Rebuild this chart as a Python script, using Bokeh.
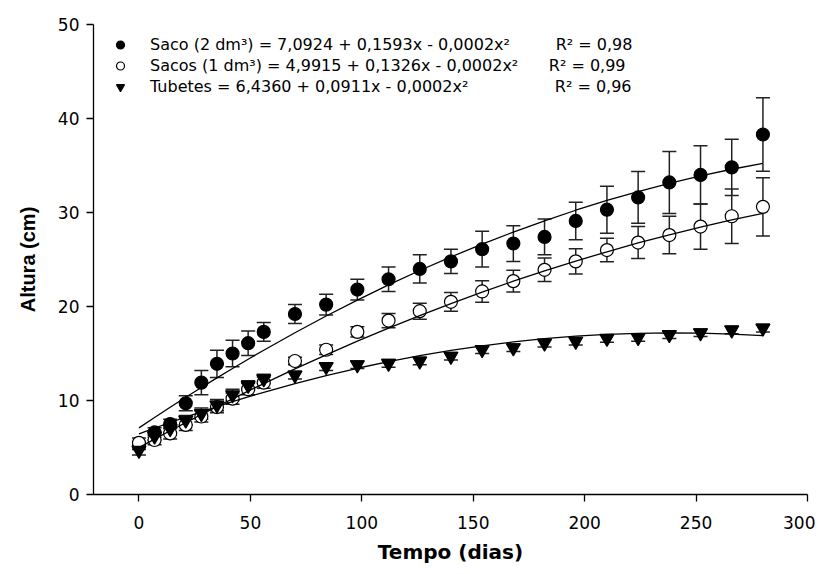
from bokeh.plotting import figure
from bokeh.models import (ColumnDataSource, Whisker, TeeHead, Legend, LegendItem,
                          FixedTicker)
from bokeh.embed import file_html
from bokeh.resources import INLINE

days = [0, 7, 14, 21, 28, 35, 42, 49, 56, 70, 84, 98, 112, 126, 140, 154, 168,
        182, 196, 210, 224, 238, 252, 266, 280]

saco2 = [5.2, 6.6, 7.5, 9.7, 11.9, 13.9, 15.0, 16.1, 17.3, 19.2, 20.2, 21.8, 22.9,
         24.0, 24.8, 26.1, 26.7, 27.4, 29.1, 30.3, 31.6, 33.2, 34.0, 34.8, 38.3]
saco2_err = [0.4, 0.5, 0.5, 0.8, 1.3, 1.45, 1.4, 1.3, 1.0, 1.0, 1.1, 1.1, 1.3, 1.5,
             1.3, 1.9, 1.9, 1.9, 2.0, 2.5, 2.75, 3.3, 3.1, 3.0, 3.9]

sacos1 = [5.5, 5.8, 6.5, 7.4, 8.3, 9.3, 10.2, 11.2, 11.9, 14.2, 15.4, 17.3, 18.5,
          19.5, 20.5, 21.6, 22.7, 23.9, 24.8, 26.0, 26.8, 27.6, 28.5, 29.6, 30.6]
sacos1_err = [0.5, 0.5, 0.6, 0.6, 0.6, 0.6, 0.6, 0.6, 0.6, 0.4, 0.5, 0.55, 0.75,
              0.85, 1.0, 1.15, 1.15, 1.25, 1.35, 1.25, 1.7, 2.0, 2.4, 2.9, 3.1]

tubetes = [4.7, 6.2, 7.0, 7.9, 8.6, 9.5, 10.6, 11.6, 12.3, 12.7, 13.6, 13.8, 13.95,
           14.2, 14.7, 15.4, 15.6, 16.1, 16.3, 16.6, 16.7, 17.0, 17.2, 17.5, 17.7]
tubetes_err = [0.5, 0.4, 0.4, 0.5, 0.6, 0.6, 0.6, 0.5, 0.5, 0.4, 0.4, 0.4, 0.4, 0.4,
               0.4, 0.4, 0.4, 0.4, 0.4, 0.4, 0.4, 0.4, 0.4, 0.4, 0.4]

# fitted curves at each sampling day
saco2_fit = [7.09, 8.19, 9.28, 10.34, 11.39, 12.41, 13.41, 14.39, 15.35, 17.21, 18.99,
             20.68, 22.30, 23.83, 25.27, 26.64, 27.92, 29.12, 30.24, 31.28, 32.23,
             33.10, 33.89, 34.60, 35.23]
sacos1_fit = [4.99, 5.89, 6.78, 7.65, 8.51, 9.35, 10.18, 11.00, 11.80, 13.37, 14.86,
              16.31, 17.70, 19.03, 20.30, 21.52, 22.69, 23.78, 24.83, 25.82, 26.76,
              27.63, 28.45, 29.21, 29.90]
tubetes_fit = [6.44, 7.06, 7.66, 8.24, 8.80, 9.35, 9.88, 10.39, 10.87, 11.80, 12.65,
               13.43, 14.14, 14.77, 15.33, 15.82, 16.23, 16.58, 16.84, 17.03, 17.15,
               17.20, 17.16, 17.07, 16.90]

NB = "\u00a0"
labels = [
    "Saco (2 dm³) = 7,0924 + 0,1593x - 0,0002x²" + NB * 9 + "R² = 0,98",
    "Sacos (1 dm³) = 4,9915 + 0,1326x - 0,0002x²" + NB * 6 + "R² = 0,99",
    "Tubetes = 6,4360 + 0,0911x - 0,0002x²" + NB * 17 + "R² = 0,96",
]
x_ticks = [0, 50, 100, 150, 200, 250, 300]
y_ticks = [0, 10, 20, 30, 40, 50]

FONT = "DejaVu Sans"

p = figure(width=815, height=566, x_range=(-20.4, 300), y_range=(0, 50),
           output_backend="svg", toolbar_location=None,
           min_border_left=93, min_border_right=8, min_border_top=24,
           min_border_bottom=72)
p.outline_line_color = None
p.xgrid.visible = False
p.ygrid.visible = False

for ax in (p.xaxis[0], p.yaxis[0]):
    ax.major_tick_in = 0
    ax.major_tick_out = 7
    ax.minor_tick_line_color = None
    ax.axis_line_width = 1.3
    ax.major_tick_line_width = 1.3
    ax.axis_line_color = "black"
    ax.major_tick_line_color = "black"
    ax.major_label_text_font = FONT
    ax.major_label_text_font_size = "17px"
    ax.major_label_text_color = "black"
    ax.axis_label_text_font_style = "bold"
    ax.axis_label_text_font_size = "20px"
    ax.axis_label_text_color = "black"

p.xaxis.axis_label_text_font = "DejaVu Sans"
p.yaxis.axis_label_text_font = "Liberation Sans"
p.xaxis.ticker = FixedTicker(ticks=x_ticks)
p.yaxis.ticker = FixedTicker(ticks=y_ticks)
p.xaxis.axis_label = "Tempo (dias)"
p.yaxis.axis_label = "Altura (cm)"
p.xaxis.major_label_standoff = 14
p.xaxis.axis_label_standoff = 8
p.yaxis.major_label_standoff = 7
p.yaxis.axis_label_standoff = 16

series = [
    (saco2, saco2_err, saco2_fit, "circle", "black"),
    (sacos1, sacos1_err, sacos1_fit, "circle", "white"),
    (tubetes, tubetes_err, tubetes_fit, "inverted_triangle", "black"),
]

renderers = []
for vals, errs, fit, marker, fill in series:
    src = ColumnDataSource(dict(
        x=days, y=vals,
        upper=[v + e for v, e in zip(vals, errs)],
        lower=[v - e for v, e in zip(vals, errs)],
    ))
    w = Whisker(source=src, base="x", upper="upper", lower="lower",
                line_color="#222222", line_width=1.5,
                upper_head=TeeHead(size=14, line_color="#222222", line_width=1.5),
                lower_head=TeeHead(size=14, line_color="#222222", line_width=1.5))
    p.add_layout(w)
    r = p.scatter("x", "y", source=src, marker=marker,
                  size=13 if marker == "circle" else 14,
                  fill_color=fill, line_color="black", line_width=1.2)
    renderers.append(r)

for vals, errs, fit, marker, fill in series:
    p.line(days, fit, line_color="black", line_width=1.3)

legend = Legend(items=[LegendItem(label=l, renderers=[r]) for l, r in zip(labels, renderers)],
                location=(17, 397), orientation="vertical",
                glyph_width=20, glyph_height=21, label_height=21, label_standoff=20,
                spacing=0, padding=0, margin=0,
                label_text_font=FONT, label_text_font_size="16px",
                label_text_color="black",
                background_fill_alpha=0, border_line_alpha=0)
p.add_layout(legend)

open("out.html", "w").write(file_html(p, INLINE))
